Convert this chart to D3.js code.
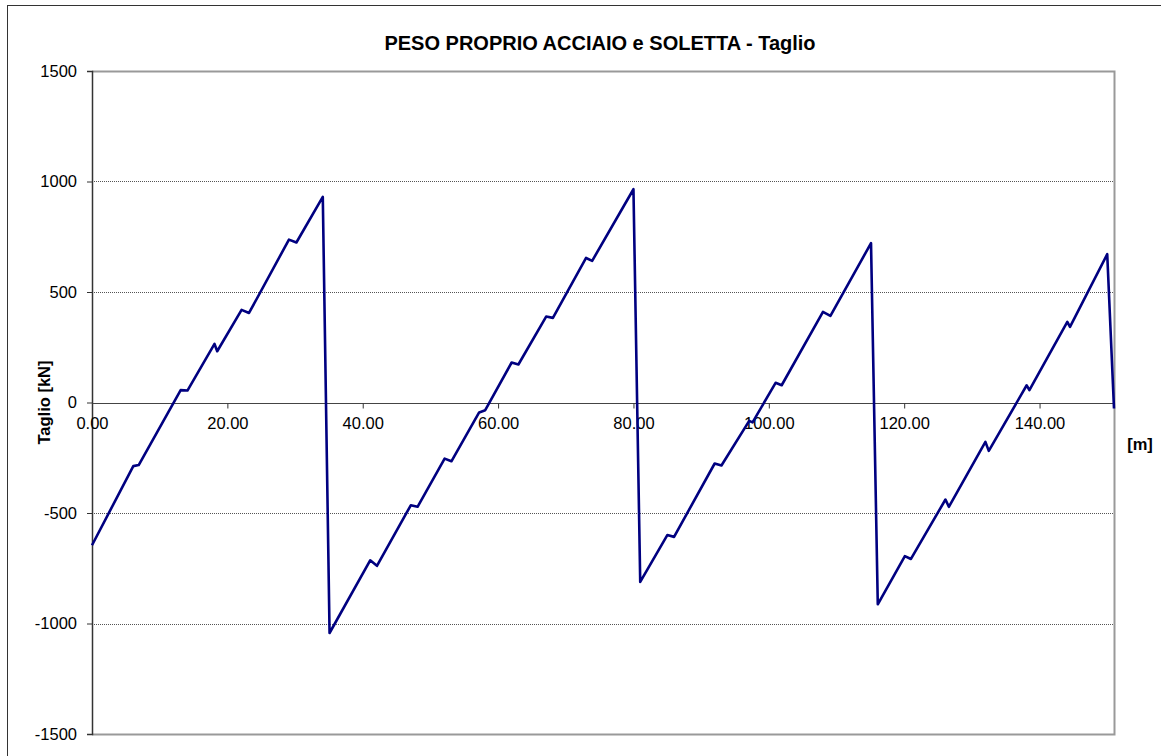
<!DOCTYPE html>
<html><head><meta charset="utf-8">
<script src="https://cdn.jsdelivr.net/npm/d3@7"></script>
<style>body{margin:0;background:#fff;}svg{display:block;font-family:"Liberation Sans",Arial,sans-serif;}</style>
</head><body>
<svg id="c" width="1161" height="756"></svg>
<script>
const titleText = "PESO PROPRIO ACCIAIO e SOLETTA - Taglio";
const yTitle = "Taglio [kN]";
const xTitle = "[m]";
const xTicks = [0, 20, 40, 60, 80, 100, 120, 140];
const yTicks = [-1500, -1000, -500, 0, 500, 1000, 1500];
const gridValues = [-1000, -500, 500, 1000];
const xs = [0, 6.1, 6.9, 13.1, 14.1, 18.1, 18.5, 22.1, 23.2, 29.1, 30.2, 34.1, 35.1, 41.1, 42.1, 47.1, 48.1, 52.1, 53.1, 57.2, 58.1, 62.0, 63.0, 67.1, 68.1, 73.0, 73.9, 80.0, 81.0, 85.0, 86.0, 92.0, 93.0, 97.1, 97.6, 101.0, 101.9, 108.0, 109.1, 115.1, 116.1, 120.1, 121.0, 126.1, 126.6, 132.0, 132.5, 138.1, 138.5, 144.1, 144.5, 150.0, 151.0];
const shear = [-646, -288, -283, 56, 54, 265, 232, 419, 405, 737, 724, 930, -1043, -714, -739, -465, -472, -254, -266, -45, -35, 181, 172, 389, 383, 654, 641, 965, -812, -600, -608, -276, -285, -83, -90, 89, 78, 410, 392, 721, -913, -695, -708, -439, -472, -178, -219, 78, 56, 365, 342, 671, -27];

const svg = d3.select("#c");
const L = 92, R = 1114, T = 71, B = 734;
const x = d3.scaleLinear().domain([0, 151]).range([L, R]);
const y = d3.scaleLinear().domain([-1500, 1500]).range([B, T]);
const FS = 16.5;
const fmtY = d => String(d);
const fmtX = d => d.toFixed(2);

// outer border
svg.append("rect").attr("x", 7.5).attr("y", 5.5).attr("width", 1170).attr("height", 770)
  .attr("fill", "none").attr("stroke", "#333").attr("stroke-width", 1);

// plot frame (gray top/right/bottom)
svg.append("path").attr("d", `M${L},${y(1500)+0.5}H${R+0.5}V${y(-1500)+0.5}H${L}`)
  .attr("fill", "none").attr("stroke", "#999").attr("stroke-width", 2);

// gridlines
svg.append("g").selectAll("line").data(gridValues).join("line")
  .attr("x1", L).attr("x2", R).attr("y1", d => Math.round(y(d)) + 0.5).attr("y2", d => Math.round(y(d)) + 0.5)
  .attr("stroke", "#555").attr("stroke-width", 1).attr("stroke-dasharray", "1,1");

// y axis
const ya = svg.append("g").attr("transform", `translate(${L},0)`)
  .call(d3.axisLeft(y).tickValues(yTicks).tickSize(5).tickPadding(10).tickFormat(fmtY));
ya.select(".domain").attr("stroke", "#333").attr("stroke-width", 1.5);
ya.selectAll(".tick line").attr("stroke", "#333");
ya.selectAll("text").attr("font-size", FS).attr("fill", "#000").attr("font-family", "Liberation Sans, Arial, sans-serif");

// x axis at y=0
const xa = svg.append("g").attr("transform", `translate(0,${Math.round(y(0)) + 0.5})`)
  .call(d3.axisBottom(x).tickValues(xTicks).tickSize(5).tickPadding(8.5).tickFormat(fmtX));
xa.select(".domain").attr("stroke", "#444").attr("stroke-width", 1.2).attr("d", `M${L},0H${R}`);
xa.selectAll(".tick line").attr("stroke", "#333");
xa.selectAll("text").attr("font-size", FS).attr("fill", "#000").attr("font-family", "Liberation Sans, Arial, sans-serif");

// line
const pts = xs.map((v, i) => [v, shear[i]]);
svg.append("path").datum(pts)
  .attr("d", d3.line().x(d => x(d[0])).y(d => y(d[1])))
  .attr("fill", "none").attr("stroke", "#000080").attr("stroke-width", 2.6).attr("stroke-linejoin", "round");

// titles
svg.append("text").attr("x", 600).attr("y", 50).attr("text-anchor", "middle")
  .attr("font-size", 20).attr("font-weight", "bold").text(titleText);
svg.append("text").attr("transform", `translate(50,${y(0)}) rotate(-90)`).attr("text-anchor", "middle")
  .attr("font-size", FS).attr("font-weight", "bold").text(yTitle);
svg.append("text").attr("x", 1140).attr("y", 450).attr("text-anchor", "middle")
  .attr("font-size", FS).attr("font-weight", "bold").text(xTitle);
</script>
</body></html>
